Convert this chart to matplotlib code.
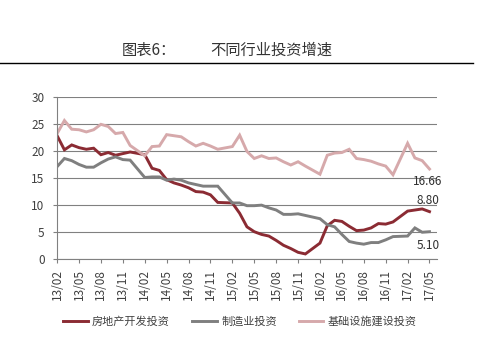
import numpy as np
import matplotlib
matplotlib.use("Agg")
import matplotlib.pyplot as plt
from matplotlib.lines import Line2D

plt.rcParams['font.family'] = ['Noto Sans CJK SC', 'DejaVu Sans']

# 月份（无1月数据）
months = []
for yy in range(13, 18):
	for mm in range(2, 13):
		if yy == 17 and mm > 5:
			break
		months.append("%02d/%02d" % (yy, mm))

real_estate = [22.8, 20.2, 21.1, 20.6, 20.3, 20.5, 19.3, 19.7, 19.2, 19.5, 19.8,
	19.3, 16.8, 16.4, 14.7, 14.1, 13.7, 13.2, 12.5, 12.4, 11.9, 10.5,
	10.4, 8.5, 6.0, 5.1, 4.6, 4.3, 3.5, 2.6, 2.0, 1.3, 1.0,
	3.0, 6.2, 7.2, 7.0, 6.1, 5.3, 5.4, 5.8, 6.6, 6.5, 6.9,
	8.9, 9.1, 9.3, 8.8]

manufacturing = [17.1, 18.6, 18.2, 17.5, 17.0, 17.0, 17.8, 18.5, 18.9, 18.4, 18.3,
	15.1, 15.2, 15.2, 14.6, 14.8, 14.6, 14.1, 13.8, 13.5, 13.5, 13.5,
	10.4, 10.4, 9.9, 9.9, 10.0, 9.5, 9.1, 8.3, 8.3, 8.4, 8.1,
	7.5, 6.4, 6.0, 4.6, 3.3, 3.0, 2.8, 3.1, 3.1, 3.6, 4.2,
	4.3, 5.8, 5.0, 5.1]

infra = [23.2, 25.6, 24.0, 23.9, 23.5, 23.9, 24.9, 24.5, 23.2, 23.4, 21.0,
	19.1, 20.8, 20.9, 23.0, 22.8, 22.6, 21.7, 20.9, 21.4, 20.9, 20.3,
	20.8, 22.9, 19.9, 18.6, 19.1, 18.6, 18.7, 18.0, 17.4, 18.0, 17.2,
	15.7, 19.2, 19.6, 19.7, 20.3, 18.6, 18.4, 18.1, 17.6, 17.2, 15.6,
	21.4, 18.7, 18.2, 16.66]

names = ["房地产开发投资", "制造业投资", "基础设施建设投资"]
colors = ["#8b2b33", "#7f7f7f", "#d6a9ab"]

def month_index(s):
	yy, mm = s.split("/")
	return (int(yy) - 13) * 12 + int(mm) - 2

x = np.array([month_index(m) for m in months])

fig = plt.figure(figsize=(4.8, 3.44), dpi=100)
ax = fig.add_axes([0.119, 0.246, 0.791, 0.473])

for vals, c, n in zip([real_estate, manufacturing, infra], colors, names):
	ax.plot(x, vals, color=c, lw=2.1, label=n, solid_joinstyle='miter')

ax.set_xlim(0, 52)
ax.set_ylim(0, 30)
ax.set_yticks(range(0, 31, 5))
tick_pos = list(range(0, 52, 3))
tick_lab = []
for t in tick_pos:
	yy = 13 + (t + 1) // 12
	mm = (t + 1) % 12 + 1
	tick_lab.append("%02d/%02d" % (yy, mm))
ax.set_xticks(tick_pos)
ax.set_xticklabels(tick_lab, rotation=90)

ax.grid(axis='y', color='#808080', lw=0.8)
ax.set_axisbelow(True)
for s in ['top', 'right']:
	ax.spines[s].set_visible(False)
for s in ['left', 'bottom']:
	ax.spines[s].set_color('#808080')
	ax.spines[s].set_linewidth(0.8)
ax.tick_params(axis='both', colors='#808080', labelcolor='#404040', labelsize=8.5, length=3, width=0.8)
ax.tick_params(axis='y', pad=6)
ax.tick_params(axis='x', pad=4)

# 末值标注
ax.annotate("16.66", (x[-1], infra[-1]), xytext=(-1, -9), textcoords='offset points',
	ha='center', va='center', fontsize=8.5, color='#303030')
ax.annotate("8.80", (x[-1], real_estate[-1]), xytext=(-1, 8), textcoords='offset points',
	ha='center', va='center', fontsize=8.5, color='#303030')
ax.annotate("5.10", (x[-1], manufacturing[-1]), xytext=(-1, -10), textcoords='offset points',
	ha='center', va='center', fontsize=8.5, color='#303030')

fig.legend(loc='center', bbox_to_anchor=(0.5, 0.065), ncol=3, frameon=False,
	fontsize=8, handlelength=2.2, columnspacing=2.0, handletextpad=0.4,
	labelcolor='#404040')

# 标题
fig.text(0.31, 0.853, "图表6：", ha='center', va='center', fontsize=11, color='#333333')
fig.text(0.566, 0.853, "不同行业投资增速", ha='center', va='center', fontsize=11, color='#333333')
fig.add_artist(Line2D([0.0, 0.985], [0.818, 0.818], color='black', lw=1.0, transform=fig.transFigure))

fig.savefig("out.png", dpi=100)
